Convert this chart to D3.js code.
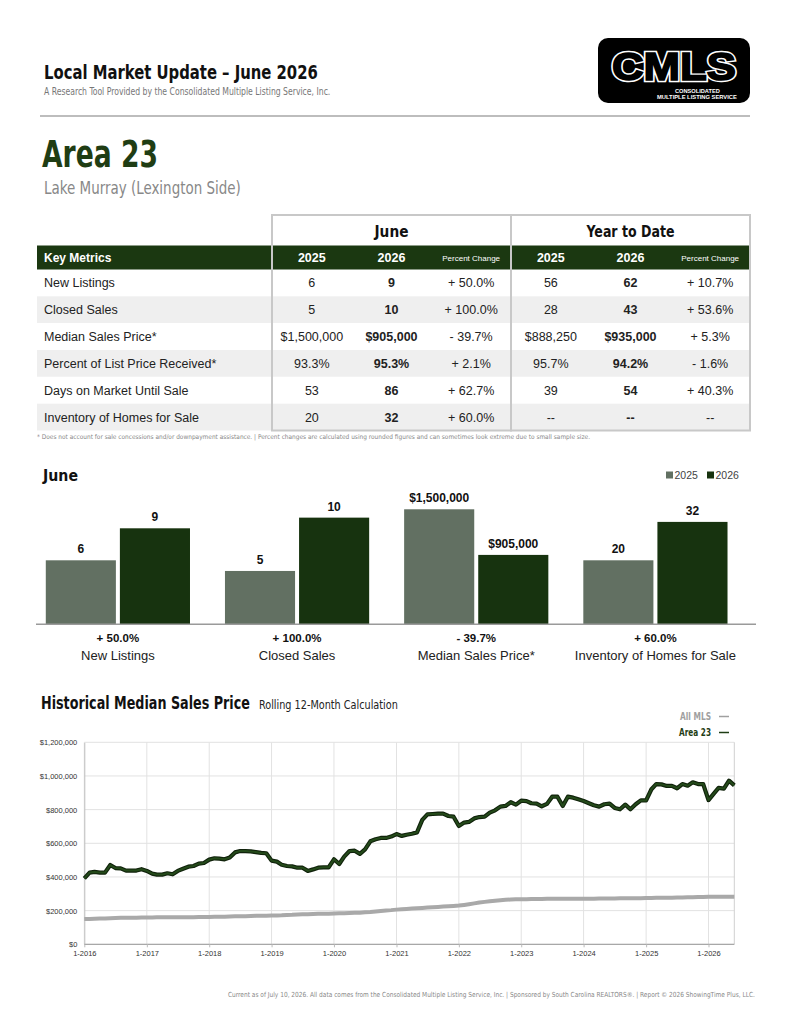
<!DOCTYPE html>
<html>
<head>
<meta charset="utf-8">
<script src="https://cdn.jsdelivr.net/npm/d3@7"></script>
<style>
  html, body { margin: 0; padding: 0; background: #ffffff; }
  svg { display: block; }
  .narrow { font-family: 'Liberation Sans Narrow', 'DejaVu Sans Condensed', 'Arial Narrow', sans-serif; }
  .reg { font-family: 'Liberation Sans', Arial, Helvetica, sans-serif; }
</style>
</head>
<body>
<svg id="page" width="791" height="1024"></svg>
<script>
// ---------------- DATA ----------------
const metrics = ["New Listings", "Closed Sales", "Median Sales Price*", "Percent of List Price Received*", "Days on Market Until Sale", "Inventory of Homes for Sale"];
const june2025 = ["6", "5", "$1,500,000", "93.3%", "53", "20"];
const june2026 = ["9", "10", "$905,000", "95.3%", "86", "32"];
const junePct  = ["+ 50.0%", "+ 100.0%", "- 39.7%", "+ 2.1%", "+ 62.7%", "+ 60.0%"];
const ytd2025  = ["56", "28", "$888,250", "95.7%", "39", "--"];
const ytd2026  = ["62", "43", "$935,000", "94.2%", "54", "--"];
const ytdPct   = ["+ 10.7%", "+ 53.6%", "+ 5.3%", "- 1.6%", "+ 40.3%", "--"];

const barCategories = ["New Listings", "Closed Sales", "Median Sales Price*", "Inventory of Homes for Sale"];
const barYears = ["2025", "2026"];
const bar2025 = [6, 5, 1500000, 20];
const bar2026 = [9, 10, 905000, 32];
const barChange = ["+ 50.0%", "+ 100.0%", "- 39.7%", "+ 60.0%"];
const barScaleMax = [11.25, 11.25, 1565000, 37.5];

const seriesStart = new Date(2016, 0, 1);
// Area 23 rolling 12-month median sales price, monthly Jan 2016 - Jun 2026
const area23 = [
  392000,426000,430000,426000,426000,471000,453000,451000,438000,438000,438000,446000,
  436000,420000,414000,414000,422000,416000,436000,449000,461000,465000,479000,483000,
  503000,511000,509000,505000,515000,546000,554000,554000,552000,548000,543000,541000,
  497000,491000,473000,465000,463000,455000,455000,436000,445000,455000,457000,457000,
  505000,477000,521000,554000,556000,537000,564000,612000,624000,632000,632000,640000,
  655000,644000,651000,657000,665000,739000,772000,774000,776000,776000,762000,758000,
  703000,723000,727000,748000,756000,758000,782000,796000,818000,822000,844000,830000,
  853000,851000,838000,836000,820000,834000,877000,877000,822000,877000,871000,861000,
  851000,838000,826000,818000,832000,836000,810000,802000,830000,802000,832000,855000,
  855000,921000,952000,950000,941000,941000,927000,952000,942000,962000,952000,952000,
  857000,895000,929000,925000,972000,944000
];
// All MLS rolling 12-month median sales price
const allMLS = [
  150000,151000,152000,153000,154000,155000,156000,157000,157000,158000,158000,159000,
  159000,159000,160000,160000,160000,160000,160000,160000,161000,161000,162000,162000,
  162000,163000,163000,164000,165000,166000,166000,167000,168000,169000,170000,170000,
  171000,171000,172000,174000,175000,177000,178000,179000,180000,181000,181000,182000,
  183000,184000,185000,186000,187000,188000,190000,192000,195000,198000,201000,203000,
  206000,208000,210000,212000,214000,216000,218000,220000,222000,224000,226000,228000,
  230000,234000,238000,243000,248000,252000,256000,259000,262000,264000,266000,267000,
  268000,268000,269000,269000,269000,270000,270000,270000,270000,270000,270000,271000,
  271000,271000,271000,272000,272000,272000,272000,273000,273000,273000,274000,274000,
  275000,275000,276000,276000,277000,277000,278000,278000,279000,280000,281000,281000,
  282000,282000,283000,283000,283000,283000
];
const yTickValues = [0, 200000, 400000, 600000, 800000, 1000000, 1200000];
const xTickYears = [2016, 2017, 2018, 2019, 2020, 2021, 2022, 2023, 2024, 2025, 2026];

// ---------------- STYLE ----------------
const GREEN = "#1b3811";
const BAR25 = "#627062";
const BAR26 = "#17330f";
const svg = d3.select("#page");

// Place a text so that its rendered width equals `w`, by scaling horizontally around its anchor.
function fitText(parent, cls, x, y, w, size, weight, fill, str, anchor) {
  const t = parent.append("text").attr("class", cls)
    .attr("x", 0).attr("y", 0)
    .attr("font-size", size).attr("font-weight", weight || "normal")
    .attr("fill", fill).attr("text-anchor", anchor || "start").text(str);
  const nat = t.node().getComputedTextLength() || w;
  const k = w / nat;
  t.attr("transform", `translate(${x},${y}) scale(${k},1)`);
  return t;
}

// ---------------- HEADER ----------------
fitText(svg, "narrow", 44, 79, 274, 19, "bold", "#111", "Local Market Update \u2013 June 2026");
fitText(svg, "narrow", 44, 95, 287, 10, "normal", "#777", "A Research Tool Provided by the Consolidated Multiple Listing Service, Inc.");
svg.append("line").attr("x1", 40).attr("x2", 750).attr("y1", 116).attr("y2", 116)
  .attr("stroke", "#bdbdbd").attr("stroke-width", 2);
fitText(svg, "narrow", 42, 167, 116, 37, "bold", "#1f3d14", "Area 23");
fitText(svg, "narrow", 44, 194, 197, 17, "normal", "#888", "Lake Murray (Lexington Side)");

// Logo
const logo = svg.append("g");
logo.append("rect").attr("x", 598).attr("y", 38).attr("width", 152).attr("height", 65)
  .attr("rx", 10).attr("fill", "#000");
const cm1 = fitText(logo, "reg", 612, 80, 124, 38, "bold", "none", "CMLS");
cm1.attr("stroke", "#fff").attr("stroke-width", 4.5);
const cm2 = fitText(logo, "reg", 612, 80, 124, 38, "bold", "#000", "CMLS");
cm2.attr("stroke", "#000").attr("stroke-width", 1.6);
fitText(logo, "reg", 675, 93, 45, 5, "bold", "#fff", "CONSOLIDATED");
fitText(logo, "reg", 657, 99, 80, 5, "bold", "#fff", "MULTIPLE LISTING SERVICE");

// ---------------- TABLE ----------------
const tableLeft = 37, tableRight = 750;
const juneBox = [272, 511], ytdBox = [511, 750];
const boxTop = 215, headTop = 245.5, headBottom = 269.5, tableBottom = 430.5;
const rowScale = d3.scaleBand().domain(metrics).range([headBottom, tableBottom]);
const juneCols = d3.scaleBand().domain([0, 1, 2]).range(juneBox);
const ytdCols = d3.scaleBand().domain([0, 1, 2]).range(ytdBox);
const colCenter = (s, i) => s(i) + s.bandwidth() / 2;

const table = svg.append("g");
table.selectAll("rect.band").data(metrics).join("rect")
  .attr("x", tableLeft).attr("width", tableRight - tableLeft)
  .attr("y", d => rowScale(d)).attr("height", rowScale.bandwidth())
  .attr("fill", (d, i) => i % 2 === 1 ? "#efefef" : "#ffffff");
table.append("rect").attr("x", tableLeft).attr("y", headTop)
  .attr("width", tableRight - tableLeft).attr("height", headBottom - headTop).attr("fill", GREEN);

table.append("text").attr("class", "reg").attr("x", 44).attr("y", headBottom - 7.5)
  .attr("font-size", 12).attr("font-weight", "bold").attr("fill", "#fff").text("Key Metrics");
const headerCols = ["2025", "2026", "Percent Change"];
[juneCols, ytdCols].forEach(sc => {
  headerCols.forEach((h, i) => {
    table.append("text").attr("class", "reg")
      .attr("x", colCenter(sc, i)).attr("y", headBottom - (i === 2 ? 9 : 7.5))
      .attr("text-anchor", "middle")
      .attr("font-size", i === 2 ? 8 : 12.5).attr("font-weight", i === 2 ? "normal" : "bold")
      .attr("fill", "#fff").text(h);
  });
});
fitText(table, "narrow", colCenter(juneCols, 1), 236.5, 34, 16.5, "bold", "#111", "June", "middle");
fitText(table, "narrow", colCenter(ytdCols, 1), 236.5, 88, 16.5, "bold", "#111", "Year to Date", "middle");

const cellY = d => rowScale(d) + rowScale.bandwidth() / 2 + 4.5;
table.selectAll("text.metric").data(metrics).join("text").attr("class", "reg")
  .attr("x", 44).attr("y", d => cellY(d)).attr("font-size", 12.5).attr("fill", "#222").text(d => d);
const colSets = [
  [june2025, juneCols, 0, false], [june2026, juneCols, 1, true], [junePct, juneCols, 2, false],
  [ytd2025, ytdCols, 0, false], [ytd2026, ytdCols, 1, true], [ytdPct, ytdCols, 2, false]
];
colSets.forEach(([vals, sc, ci, bold]) => {
  table.append("g").selectAll("text").data(vals).join("text").attr("class", "reg")
    .attr("x", colCenter(sc, ci)).attr("y", (d, i) => cellY(metrics[i]))
    .attr("text-anchor", "middle").attr("font-size", 12.5)
    .attr("font-weight", bold ? "bold" : "normal").attr("fill", "#222").text(d => d);
});
[juneBox, ytdBox].forEach(b => {
  table.append("rect").attr("x", b[0]).attr("y", boxTop).attr("width", b[1] - b[0])
    .attr("height", tableBottom - boxTop).attr("fill", "none").attr("stroke", "#c8c8c8").attr("stroke-width", 2);
});
fitText(svg, "narrow", 37, 439, 554, 6.5, "normal", "#888",
  "* Does not account for sale concessions and/or downpayment assistance.  |  Percent changes are calculated using rounded figures and can sometimes look extreme due to small sample size.");

// ---------------- BAR CHART ----------------
const barBase = 624.3, barTopMax = 504.3;
const bars = svg.append("g");
fitText(bars, "narrow", 43, 481, 35, 16, "bold", "#111", "June");
const gx = d3.scaleBand().domain(barCategories).range([28.3, 745]);
const ix = d3.scaleBand().domain(barYears).range([0, gx.bandwidth()]).paddingInner(0.054).paddingOuter(0.236);
const fmtVal = v => v >= 1000 ? d3.format("$,")(v) : d3.format(",")(v);
barCategories.forEach((cat, gi) => {
  const y = d3.scaleLinear().domain([0, barScaleMax[gi]]).range([barBase, barTopMax]);
  const vals = [bar2025[gi], bar2026[gi]];
  const g = bars.append("g").attr("transform", `translate(${gx(cat)},0)`);
  g.selectAll("rect").data(vals).join("rect")
    .attr("x", (d, i) => ix(barYears[i])).attr("width", ix.bandwidth())
    .attr("y", d => y(d)).attr("height", d => barBase - y(d))
    .attr("fill", (d, i) => i === 0 ? BAR25 : BAR26);
  g.selectAll("text.v").data(vals).join("text").attr("class", "reg")
    .attr("x", (d, i) => ix(barYears[i]) + ix.bandwidth() / 2).attr("y", d => y(d) - 7)
    .attr("text-anchor", "middle").attr("font-size", 12).attr("font-weight", "bold").attr("fill", "#111")
    .text(d => fmtVal(d));
  const cx = gx.bandwidth() / 2;
  g.append("text").attr("class", "reg").attr("x", cx).attr("y", 641.5).attr("text-anchor", "middle")
    .attr("font-size", 11.5).attr("font-weight", "bold").attr("fill", "#111").text(barChange[gi]);
  g.append("text").attr("class", "reg").attr("x", cx).attr("y", 659.5).attr("text-anchor", "middle")
    .attr("font-size", 13).attr("fill", "#222").text(cat);
});
bars.append("line").attr("x1", 36).attr("x2", 756).attr("y1", barBase).attr("y2", barBase)
  .attr("stroke", "#9a9a9a").attr("stroke-width", 1.5);
// legend
const barLeg = bars.append("g");
[["2025", BAR25, 666], ["2026", BAR26, 707]].forEach(([t, c, x]) => {
  barLeg.append("rect").attr("x", x).attr("y", 471.5).attr("width", 7).attr("height", 7).attr("fill", c);
  barLeg.append("text").attr("class", "reg").attr("x", x + 8.5).attr("y", 479)
    .attr("font-size", 10.5).attr("fill", "#444").text(t);
});

// ---------------- LINE CHART ----------------
const lc = svg.append("g");
fitText(lc, "narrow", 41, 709, 209, 18, "bold", "#111", "Historical Median Sales Price");
fitText(lc, "narrow", 259, 709, 139, 12, "normal", "#222", "Rolling 12-Month Calculation");

const px0 = 84.3, px1 = 734.3, py0 = 944.3, py1 = 742.3;
const dates = area23.map((d, i) => d3.timeMonth.offset(seriesStart, i));
const x = d3.scaleTime().domain([dates[0], dates[dates.length - 1]]).range([px0, px1]);
const y = d3.scaleLinear().domain([0, 1200000]).range([py0, py1]);

// grid
lc.append("g").selectAll("line").data(yTickValues).join("line")
  .attr("x1", px0).attr("x2", px1).attr("y1", d => y(d)).attr("y2", d => y(d))
  .attr("stroke", "#e2e2e2").attr("stroke-width", 1);
const xTickDates = xTickYears.map(yr => new Date(yr, 0, 1));
lc.append("g").selectAll("line").data(xTickDates).join("line")
  .attr("x1", d => x(d)).attr("x2", d => x(d)).attr("y1", py1).attr("y2", py0)
  .attr("stroke", "#e2e2e2").attr("stroke-width", 1);
lc.append("line").attr("x1", px1).attr("x2", px1).attr("y1", py1).attr("y2", py0).attr("stroke", "#d0d0d0");

// axes
const yAxis = d3.axisLeft(y).tickValues(yTickValues).tickFormat(d3.format("$,")).tickSize(0).tickPadding(7);
const yg = lc.append("g").attr("transform", `translate(${px0},0)`).call(yAxis);
yg.select(".domain").attr("stroke", "#c0c0c0");
yg.selectAll("text").attr("font-family", "'Liberation Sans', Arial, sans-serif").attr("font-size", 7.5).attr("fill", "#333");
const xAxis = d3.axisBottom(x).tickValues(xTickDates).tickFormat(d3.timeFormat("1-%Y")).tickSize(3).tickPadding(3);
const xg = lc.append("g").attr("transform", `translate(0,${py0})`).call(xAxis);
xg.select(".domain").attr("stroke", "#999").attr("d", `M${px0},0H${px1}`);
xg.selectAll(".tick line").attr("stroke", "#bbb");
xg.selectAll("text").attr("font-family", "'Liberation Sans', Arial, sans-serif").attr("font-size", 7.5).attr("fill", "#333");

// lines
const lineGen = d3.line().x((d, i) => x(dates[i])).y(d => y(d)).curve(d3.curveLinear);
lc.append("path").datum(allMLS).attr("d", lineGen).attr("fill", "none")
  .attr("stroke", "#a9a9a9").attr("stroke-width", 4).attr("stroke-linejoin", "round");
lc.append("path").datum(area23).attr("d", lineGen).attr("fill", "none")
  .attr("stroke", "#10220b").attr("stroke-width", 4.2).attr("stroke-linejoin", "round");
lc.append("path").datum(area23).attr("d", lineGen).attr("fill", "none")
  .attr("stroke", "#244a1a").attr("stroke-width", 2).attr("stroke-linejoin", "round");

// legend
[["All MLS", "#a0a0a0", 720, 31], ["Area 23", "#1f3d14", 736, 32]].forEach(([t, c, yy, w]) => {
  fitText(lc, "narrow", 711, yy, w, 10, "bold", c, t, "end");
  lc.append("line").attr("x1", 719).attr("x2", 729).attr("y1", yy - 3.5).attr("y2", yy - 3.5)
    .attr("stroke", c).attr("stroke-width", 1.5);
});

// ---------------- FOOTER ----------------
fitText(svg, "narrow", 228, 997, 528, 7, "normal", "#888",
  "Current as of July 10, 2026. All data comes from the Consolidated Multiple Listing Service, Inc.  |  Sponsored by South Carolina REALTORS\u00AE.  |  Report \u00A9 2026 ShowingTime Plus, LLC.");
</script>
</body>
</html>
